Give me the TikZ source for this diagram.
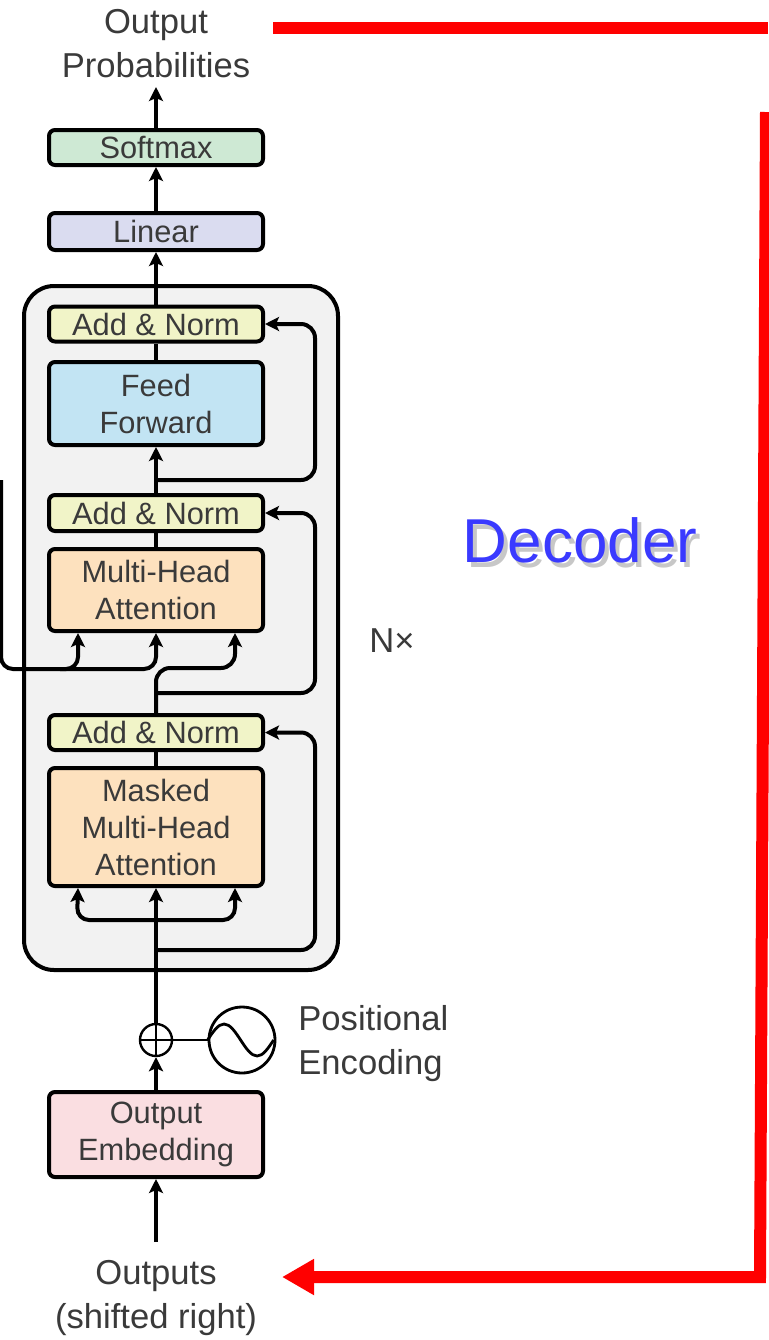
\documentclass[tikz,border=0pt]{standalone}
\usepackage{fontspec}
\setmainfont{Liberation Sans}
\usetikzlibrary{arrows.meta,calc}

\definecolor{txt}{RGB}{58,58,58}
\definecolor{panelgray}{RGB}{242,242,242}
\definecolor{smxgreen}{RGB}{206,233,212}
\definecolor{linlav}{RGB}{218,220,240}
\definecolor{normyel}{RGB}{241,244,200}
\definecolor{ffblue}{RGB}{194,228,243}
\definecolor{attorange}{RGB}{253,225,190}
\definecolor{embpink}{RGB}{250,222,225}
\definecolor{decblue}{RGB}{58,58,255}
\definecolor{hotred}{RGB}{255,0,0}

\newcommand{\boxfont}{\fontsize{15.4pt}{18.5pt}\selectfont}
\newcommand{\labfont}{\fontsize{17.3pt}{22pt}\selectfont}

\tikzset{
  blk/.style={draw, line width=2pt, rounded corners=3pt, inner sep=0pt,
    minimum width=107pt, align=center, text=txt, font=\boxfont},
  lab/.style={inner sep=0pt, align=center, text=txt, font=\labfont},
  wire/.style={line width=2pt},
  arr/.style={wire, -{Stealth[length=7pt,width=7pt,inset=1.5pt]}},
  hotline/.style={draw=hotred, line width=6pt, line join=miter}
}

\begin{document}
\begin{tikzpicture}[x=0.5pt,y=-0.5pt]
\useasboundingbox (0,0) rectangle (768,1340);
\fill[white] (0,0) rectangle (768,1340);

% repeated decoder layer panel
\draw[line width=2pt, fill=panelgray, rounded corners=15pt] (24,286) rectangle (338,970);

% blocks
\node[blk, fill=smxgreen, minimum height=17.5pt] (softmax) at (156,147.5) {Softmax};
\node[blk, fill=linlav, minimum height=18.5pt] (linear) at (156,231.5) {Linear};
\node[blk, fill=normyel, minimum height=17.5pt] (norm1) at (156,324) {Add \& Norm};
\node[blk, fill=ffblue, minimum height=41.5pt] (ff) at (156,403.5) {Feed\\Forward};
\node[blk, fill=normyel, minimum height=18pt] (norm2) at (156,513) {Add \& Norm};
\node[blk, fill=attorange, minimum height=41pt] (mha) at (156,590) {Multi-Head\\Attention};
\node[blk, fill=normyel, minimum height=17.5pt] (norm3) at (156,732.5) {Add \& Norm};
\node[blk, fill=attorange, minimum height=59pt] (mmha) at (156,827) {Masked\\Multi-Head\\Attention};
\node[blk, fill=embpink, minimum height=42.5pt] (emb) at (156,1134.5) {Output\\Embedding};

% labels
\node[lab] (outprob) at (156,43.5) {Output\\Probabilities};
\node[lab] (outputs) at (156,1298) {Outputs\\(shifted right)};
\node[lab, anchor=west, align=left] (poslab) at (298,1044) {Positional\\Encoding};
\node[lab] (nx) at (392,640.5) {N×};

% positional encoding
\node[draw, circle, line width=1.2pt, minimum size=16pt, inner sep=0pt] (plus) at (156,1040) {};
\draw[line width=1.2pt] (plus.north) -- (plus.south) (plus.west) -- (plus.east);
\node[draw, circle, line width=1.4pt, minimum size=33pt, inner sep=0pt] (pe) at (242,1040) {};
\draw[line width=1.4pt] (pe.west) sin ++(16.5,-16) cos ++(16.5,16) sin ++(16.5,16) cos ++(16.5,-16);
\draw[line width=1.4pt] (plus.east) -- (pe.west);

% named points on the wires
\coordinate (optip) at (156,87);
\coordinate (intail) at (156,1242);
\coordinate (enc) at (1,480);
\coordinate (b1) at (156,480);
\coordinate (b2) at (156,693);
\coordinate (b3) at (156,950);
\coordinate (fk) at (156,920);

% main stream
\draw[arr] (intail) -- (emb.south);
\draw[arr] (emb.north) -- (plus.south);
\draw[arr] (plus.north) -- (mmha.south);
\draw[arr, rounded corners=6pt] (fk) -- (77,920) -- ($(mmha.south)+(-78,0)$);
\draw[arr, rounded corners=6pt] (fk) -- (235,920) -- ($(mmha.south)+(79,0)$);
\draw[wire] (mmha.north) -- (norm3.south);
\draw[arr, rounded corners=7pt] (b3) -- (315,950) -- (315,732.5) -- (norm3.east);

\draw[arr, rounded corners=7pt] (norm3.north) -- (156,668) -- (235,668) -- ($(mha.south)+(79,0)$);
\draw[arr, rounded corners=7pt] (b2) -- (315,693) -- (315,513) -- (norm2.east);
\draw[arr, rounded corners=6pt] (enc) -- (1,669) -- (78,669) -- ($(mha.south)+(-78,0)$);
\draw[arr, rounded corners=6pt] (60,669) -- (156,669) -- (mha.south);
\draw[wire] (mha.north) -- (norm2.south);

\draw[arr] (norm2.north) -- (ff.south);
\draw[arr, rounded corners=7pt] (b1) -- (315,480) -- (315,324) -- (norm1.east);
\draw[wire] (ff.north) -- (norm1.south);
\draw[arr] (norm1.north) -- (linear.south);
\draw[arr] (linear.north) -- (softmax.south);
\draw[arr] (softmax.north) -- (optip);

% title with a soft drop shadow
\node[inner sep=0pt, text=black, opacity=0.22, font=\fontsize{31pt}{31pt}\selectfont] (titleshadow) at (584,545) {Decoder};
\node[inner sep=0pt, text=decblue, font=\fontsize{31pt}{31pt}\selectfont] (title) at (580,540) {Decoder};

% feedback loop marker
\coordinate (ra) at (273,28);
\coordinate (rb) at (768,28);
\coordinate (rc) at (766,112);
\coordinate (rd) at (760,1277);
\coordinate (re) at (282,1277);
\draw[hotline] (ra) -- (rb);
\draw[hotline, -{Triangle[length=16pt,width=17pt]}] (rc) -- (rd) -- (re);
\end{tikzpicture}
\end{document}
